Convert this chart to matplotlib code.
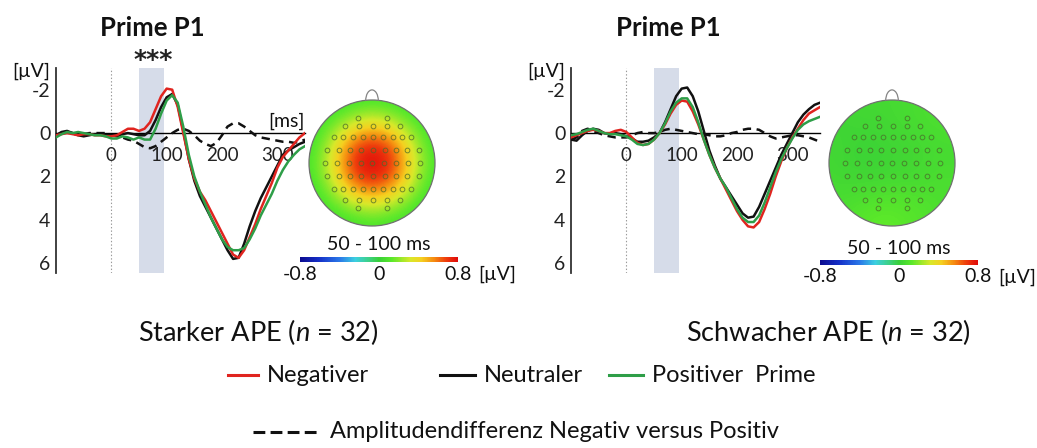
import numpy as np
import matplotlib
matplotlib.use('Agg')
import matplotlib.pyplot as plt
from matplotlib.colors import LinearSegmentedColormap, Normalize
from matplotlib.patches import Circle, Arc
from matplotlib.lines import Line2D
import matplotlib.cm as cm

plt.rcParams['font.family'] = ['Lato', 'DejaVu Sans']
plt.rcParams['mathtext.fontset'] = 'custom'
plt.rcParams['mathtext.it'] = 'Lato:italic'
plt.rcParams['mathtext.rm'] = 'Lato'
plt.rcParams['lines.scale_dashes'] = False

# time axis in ms
t = np.arange(-100, 351, 10)

# Starker APE (n = 32), values in microvolt
strong_neg = [0.1, 0.05, 0.0, 0.05, 0.1, 0.05, 0.05, 0.1, 0.1, 0.15, 0.15,
              0.1, -0.05, -0.2, -0.2, -0.1, -0.2, -0.5, -1.1, -1.7, -2.05,
              -2.0, -1.2, 0.0, 1.2, 2.1, 2.7, 3.1, 3.6, 4.1, 4.6,
              5.1, 5.6, 5.75, 5.4, 4.8, 4.2, 3.5, 2.9, 2.3, 1.6,
              1.1, 0.8, 0.5, 0.2, 0.0]
strong_neu = [0.1, -0.05, -0.1, 0.0, 0.1, 0.15, 0.1, 0.05, 0.05, 0.1, 0.1,
              0.15, 0.05, 0.0, 0.05, 0.1, 0.1, -0.1, -0.6, -1.2, -1.65,
              -1.8, -1.3, -0.1, 1.2, 2.2, 2.9, 3.4, 3.9, 4.4, 4.9,
              5.4, 5.8, 5.75, 5.1, 4.3, 3.6, 3.0, 2.5, 2.0, 1.5,
              1.0, 0.8, 0.65, 0.5, 0.4]
strong_pos = [0.2, 0.05, -0.05, 0.0, -0.05, 0.0, 0.05, 0.1, 0.1, 0.15, 0.25,
              0.25, 0.15, 0.2, 0.3, 0.2, 0.3, 0.3, -0.2, -0.9, -1.5,
              -1.75, -1.4, -0.3, 1.0, 2.0, 2.7, 3.3, 3.9, 4.4, 4.9,
              5.25, 5.4, 5.4, 5.3, 4.9, 4.4, 3.8, 3.3, 2.8, 2.2,
              1.7, 1.3, 1.0, 0.75, 0.6]
strong_diff = [0.1, 0.0, -0.05, 0.0, 0.1, 0.05, 0.0, 0.0, 0.0, 0.0, 0.1,
               0.1, 0.2, 0.3, 0.35, 0.5, 0.65, 0.7, 0.6, 0.4, 0.2,
               0.0, -0.15, -0.2, -0.1, 0.1, 0.35, 0.5, 0.6, 0.45, 0.1,
               -0.3, -0.45, -0.45, -0.3, -0.1, 0.1, 0.2, 0.25, 0.3, 0.35,
               0.4, 0.4, 0.45, 0.4, 0.3]

# Schwacher APE (n = 32)
weak_neg = [0.2, 0.1, 0.0, -0.1, -0.15, -0.1, 0.0, 0.0, -0.1, -0.15, -0.05,
            0.2, 0.45, 0.55, 0.5, 0.3, 0.0, -0.4, -0.9, -1.3, -1.5,
            -1.45, -1.0, -0.4, 0.3, 1.0, 1.6, 2.1, 2.6, 3.1, 3.6,
            4.0, 4.3, 4.35, 4.1, 3.5, 2.8, 2.0, 1.3, 0.7, 0.2,
            -0.2, -0.6, -0.9, -1.05, -1.2]
weak_neu = [0.3, 0.35, 0.1, -0.1, -0.2, -0.15, 0.0, 0.05, 0.0, 0.05, 0.15,
            0.25, 0.4, 0.4, 0.35, 0.2, 0.0, -0.5, -1.1, -1.7, -2.05,
            -2.1, -1.7, -1.0, -0.1, 0.8, 1.5, 2.1, 2.5, 2.9, 3.3,
            3.7, 3.9, 3.85, 3.4, 2.8, 2.2, 1.6, 1.0, 0.5, 0.0,
            -0.5, -0.85, -1.1, -1.3, -1.4]
weak_pos = [0.1, 0.05, -0.05, -0.15, -0.2, -0.1, 0.0, 0.05, 0.05, 0.1, 0.15,
            0.3, 0.5, 0.55, 0.5, 0.3, 0.0, -0.45, -1.0, -1.4, -1.6,
            -1.6, -1.2, -0.5, 0.3, 1.0, 1.6, 2.1, 2.5, 3.0, 3.5,
            3.9, 4.1, 4.1, 3.8, 3.2, 2.5, 1.8, 1.2, 0.7, 0.25,
            -0.15, -0.4, -0.55, -0.65, -0.75]
weak_diff = [0.3, 0.2, -0.1, -0.2, -0.1, 0.0, 0.1, 0.15, 0.2, 0.2, 0.2,
             0.1, 0.0, -0.05, 0.0, 0.0, -0.05, -0.15, -0.2, -0.15, -0.1,
             -0.05, 0.0, 0.05, 0.05, 0.1, 0.15, 0.15, 0.1, 0.0, -0.05,
             -0.15, -0.2, -0.2, -0.15, 0.0, 0.15, 0.25, 0.2, 0.15, 0.1,
             0.1, 0.15, 0.2, 0.3, 0.4]

# topography 50-100 ms, coarse 9x9 grid (rows front -> back), microvolt
topo_strong = [
    [0.05, 0.06, 0.07, 0.08, 0.09, 0.08, 0.07, 0.06, 0.05],
    [0.06, 0.08, 0.13, 0.20, 0.24, 0.20, 0.13, 0.08, 0.06],
    [0.07, 0.13, 0.28, 0.45, 0.50, 0.45, 0.28, 0.13, 0.07],
    [0.08, 0.20, 0.45, 0.66, 0.74, 0.66, 0.45, 0.20, 0.08],
    [0.09, 0.24, 0.50, 0.74, 0.80, 0.74, 0.50, 0.24, 0.09],
    [0.08, 0.20, 0.45, 0.66, 0.74, 0.66, 0.45, 0.20, 0.08],
    [0.07, 0.13, 0.28, 0.45, 0.50, 0.45, 0.28, 0.13, 0.07],
    [0.06, 0.08, 0.13, 0.20, 0.24, 0.20, 0.13, 0.08, 0.06],
    [0.05, 0.06, 0.07, 0.08, 0.09, 0.08, 0.07, 0.06, 0.05]]
topo_weak = [
    [0.04, 0.04, 0.05, 0.05, 0.05, 0.06, 0.07, 0.08, 0.08],
    [0.03, 0.03, 0.04, 0.04, 0.05, 0.06, 0.07, 0.08, 0.08],
    [0.03, 0.03, 0.03, 0.03, 0.04, 0.05, 0.06, 0.07, 0.07],
    [0.04, 0.03, 0.02, 0.02, 0.03, 0.04, 0.05, 0.06, 0.06],
    [0.04, 0.03, 0.02, 0.02, 0.03, 0.04, 0.05, 0.06, 0.06],
    [0.05, 0.04, 0.04, 0.04, 0.05, 0.05, 0.06, 0.07, 0.07],
    [0.06, 0.06, 0.07, 0.08, 0.09, 0.09, 0.08, 0.08, 0.07],
    [0.07, 0.08, 0.10, 0.12, 0.12, 0.11, 0.10, 0.08, 0.07],
    [0.07, 0.09, 0.12, 0.14, 0.14, 0.12, 0.10, 0.08, 0.07]]

# electrode rows (y, x list), head radius = 1
elec_rows = [
    (0.72, [-0.22, 0.24]),
    (0.59, [-0.43, -0.21, 0.01, 0.24, 0.45]),
    (0.41, [-0.61, -0.46, -0.30, -0.14, 0.02, 0.17, 0.33, 0.47, 0.62]),
    (0.21, [-0.71, -0.53, -0.35, -0.17, 0.02, 0.20, 0.38, 0.55, 0.74]),
    (0.00, [-0.75, -0.56, -0.37, -0.18, 0.00, 0.19, 0.38, 0.57, 0.76]),
    (-0.21, [-0.71, -0.53, -0.35, -0.17, 0.02, 0.20, 0.38, 0.55, 0.74]),
    (-0.41, [-0.61, -0.46, -0.30, -0.14, 0.02, 0.17, 0.33, 0.47, 0.62]),
    (-0.58, [-0.43, -0.21, 0.01, 0.24, 0.45]),
    (-0.71, [-0.22, 0.24]),
]

cmap = LinearSegmentedColormap.from_list('topo', [
    (0.0, '#0b0b8f'), (0.12, '#1530c8'), (0.25, '#2a78e8'), (0.35, '#3ccfe0'),
    (0.44, '#3cd080'), (0.5, '#38d038'), (0.58, '#5ae82a'), (0.7, '#d8e82a'),
    (0.77, '#f5d020'), (0.85, '#f58a10'), (0.93, '#ee3a0c'),
    (1.0, '#e00a0a')])
norm = Normalize(-0.8, 0.8)

W, H = 1037, 448
fig = plt.figure(figsize=(W / 100, H / 100), dpi=100)

RED, BLACK, GREEN = '#e0241f', '#111111', '#2e9e48'


def erp_panel(x0, neg, neu, pos, diff):
    ax = fig.add_axes([x0 / W, (H - 273) / H, 249 / W, 205 / H])
    ax.axvspan(50, 95, color='#d6dce9', lw=0, zorder=0)
    ax.axvline(0, color='#9a9a9a', lw=0.8, ls=(0, (1, 1.5)), zorder=1)
    ax.plot(t, diff, color=BLACK, lw=1.8, dashes=(6, 4), zorder=3)
    ax.plot(t, neu, color=BLACK, lw=1.8, zorder=3)
    ax.plot(t, neg, color=RED, lw=1.8, zorder=3)
    ax.plot(t, pos, color=GREEN, lw=1.8, zorder=3)
    ax.set_xlim(-100, 350)
    ax.set_ylim(6.45, -3.0)
    ax.set_xticks([0, 100, 200, 300])
    ax.set_yticks([-2, 0, 2, 4, 6])
    ax.set_yticklabels(['-2', '0', '2', '4', '6'])
    ax.spines['top'].set_visible(False)
    ax.spines['right'].set_visible(False)
    ax.spines['bottom'].set_position(('data', 0))
    ax.spines['bottom'].set_linewidth(1.0)
    ax.spines['left'].set_linewidth(1.3)
    ax.spines['left'].set_color('#333333')
    ax.tick_params(axis='x', length=0, pad=10, labelsize=13.5, colors='#222222')
    ax.tick_params(axis='y', length=0, pad=4, labelsize=14, colors='#222222')
    ax.patch.set_alpha(0)
    return ax


def topo_panel(cx, cy, grid):
    r = 63
    ax = fig.add_axes([(cx - 1.1 * r) / W, (H - (cy + 1.1 * r)) / H,
                       2.2 * r / W, 2.4 * r / H])
    im = ax.imshow(grid, extent=(-1.125, 1.125, -1.125, 1.125), cmap=cmap,
                   norm=norm, interpolation='bicubic',
                   interpolation_stage='data', origin='upper')
    ax.set_aspect('auto')
    ax.set_xlim(-1.1, 1.1)
    ax.set_ylim(-1.1, 1.3)
    ax.axis('off')
    head = Circle((0, 0), 1, facecolor='none', edgecolor='#707070', lw=0.9)
    ax.add_patch(head)
    im.set_clip_path(head)
    ax.add_patch(Arc((0, 0.99), 0.2, 0.34, theta1=0, theta2=180,
                     color='#858585', lw=0.9))
    for y, xs in elec_rows:
        ax.plot(xs, [y] * len(xs), 'o', ms=3.4, mfc='none', mec='#4a6a2a',
                mew=0.7, alpha=0.75)


def colorbar(x0, y0):
    cax = fig.add_axes([x0 / W, (H - y0 - 5) / H, 158 / W, 5 / H])
    cb = fig.colorbar(cm.ScalarMappable(norm=norm, cmap=cmap), cax=cax,
                      orientation='horizontal')
    cb.outline.set_visible(False)
    cb.set_ticks([])


erp_panel(56, strong_neg, strong_neu, strong_pos, strong_diff)
erp_panel(571, weak_neg, weak_neu, weak_pos, weak_diff)
topo_panel(372, 163, topo_strong)
topo_panel(892, 163, topo_weak)
colorbar(300, 257)
colorbar(820, 260)

# overlay in pixel coordinates for texts and legend
ov = fig.add_axes([0, 0, 1, 1])
ov.set_xlim(0, W)
ov.set_ylim(H, 0)
ov.axis('off')

tc = '#111111'
for x in (152, 668):
    ov.text(x, 28, 'Prime P1', ha='center', va='center', fontsize=18.5,
            fontweight='bold', color=tc)
ov.text(153, 60, '***', ha='center', va='center', fontsize=18,
        fontweight='bold', color='#222222', family='DejaVu Sans')
ov.text(31, 71, '[µV]', ha='center', va='center', fontsize=14, color=tc)
ov.text(546, 71, '[µV]', ha='center', va='center', fontsize=14, color=tc)
ov.text(286, 121, '[ms]', ha='center', va='center', fontsize=14, color=tc)

for (x0, ylab, ytk) in ((300, 244, 274), (820, 248, 277)):
    ov.text(x0 + 79, ylab, '50 - 100 ms', ha='center', va='center',
            fontsize=14, color=tc)
    ov.text(x0, ytk, '-0.8', ha='center', va='center', fontsize=14, color=tc)
    ov.text(x0 + 79, ytk, '0', ha='center', va='center', fontsize=14, color=tc)
    ov.text(x0 + 158, ytk, '0.8', ha='center', va='center', fontsize=14,
            color=tc)
    ov.text(x0 + 178, ytk, '[µV]', ha='left', va='center', fontsize=14,
            color=tc)

ov.text(258, 332, 'Starker APE ($n$ = 32)', ha='center', va='center',
        fontsize=19.5, color=tc)
ov.text(828, 332, 'Schwacher APE ($n$ = 32)', ha='center', va='center',
        fontsize=19.5, color=tc)

legend_items = [(228, 258, RED, 'Negativer'),
                (440, 475, BLACK, 'Neutraler'),
                (609, 643, GREEN, 'Positiver  Prime')]
for xa, xb, col, lab in legend_items:
    ov.add_line(Line2D([xa, xb], [375, 375], color=col, lw=2.2))
    ov.text(xb + 9, 375, lab, ha='left', va='center', fontsize=17, color=tc)
ov.add_line(Line2D([253, 318], [432, 432], color=BLACK, lw=2.2,
                   dashes=(8.5, 3.8)))
ov.text(330, 432, 'Amplitudendifferenz Negativ versus Positiv', ha='left',
        va='center', fontsize=17, color=tc)

fig.savefig('out.png', dpi=100)
